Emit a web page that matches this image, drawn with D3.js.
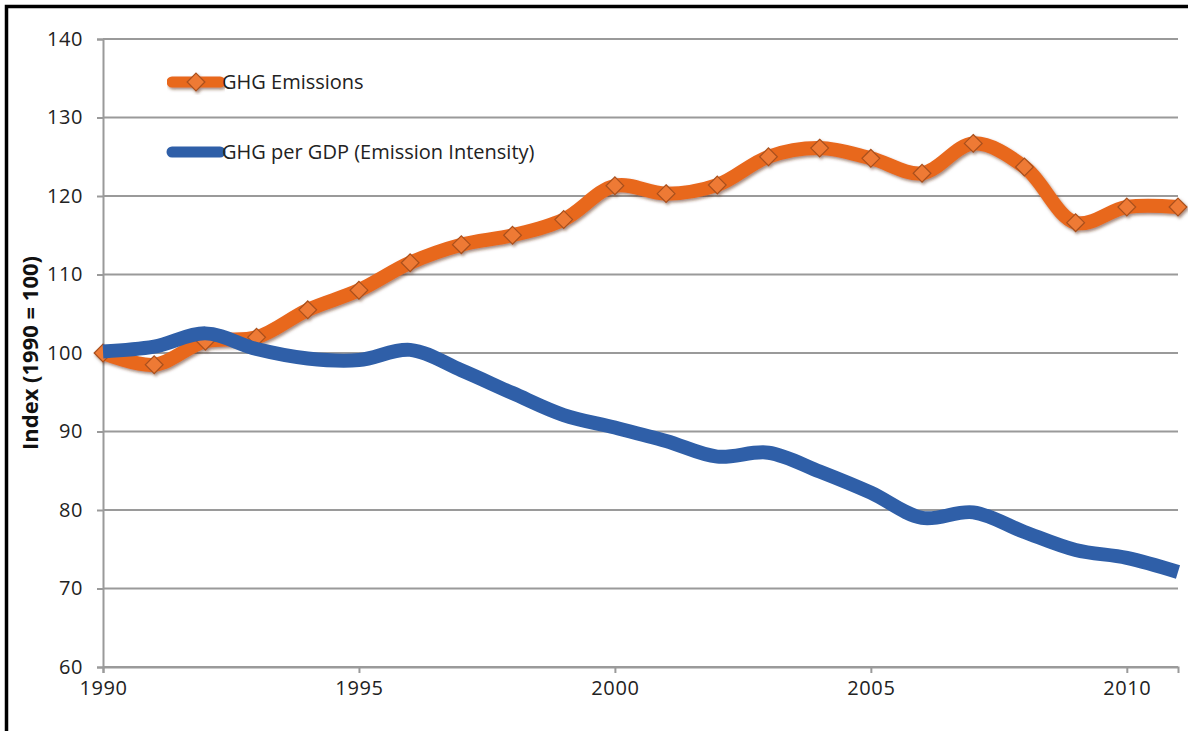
<!DOCTYPE html>
<html>
<head>
<meta charset="utf-8">
<script src="https://cdn.jsdelivr.net/npm/d3@7"></script>
<style>
  html, body { margin: 0; padding: 0; background: #fff; }
  svg { display: block; font-family: "Open Sans", "Liberation Sans", sans-serif; }
</style>
</head>
<body>
<svg id="chart" width="1188" height="731"></svg>
<script>
// Greenhouse gas index series, 1990 = 100
const years = d3.range(1990, 2012);
const emissions = [100, 98.5, 101.5, 102, 105.5, 108, 111.5, 113.8, 115, 117,
  121.3, 120.3, 121.4, 125, 126.1, 124.8, 122.9, 126.7, 123.7, 116.6, 118.6, 118.6];
const intensity = [100.2, 100.8, 102.5, 100.5, 99.3, 99.1, 100.4, 97.8, 94.9, 92.1,
  90.5, 88.8, 86.8, 87.3, 84.9, 82.2, 79.0, 79.7, 77.2, 74.9, 73.9, 72.1];
const yTicks = [60, 70, 80, 90, 100, 110, 120, 130, 140];
const xTicks = [1990, 1995, 2000, 2005, 2010];
const seriesNames = ["GHG Emissions", "GHG per GDP (Emission Intensity)"];
const yTitle = "Index (1990 = 100)";

const svg = d3.select("#chart");
const W = 1188, H = 731;
const m = { left: 103, right: 10, top: 39, bottom: 64 };
const FONT = "'Open Sans', 'Liberation Sans', sans-serif";

svg.append("rect").attr("width", W).attr("height", H).attr("fill", "#fff");

// frame: heavy black rule on the top and left edges
svg.append("path")
  .attr("d", `M6.5,${H} V6.5 H${W}`)
  .attr("fill", "none").attr("stroke", "#000").attr("stroke-width", 3.5);

const x = d3.scaleLinear().domain([1990, 2011]).range([m.left, 1178]);
const y = d3.scaleLinear().domain([60, 140]).range([667, m.top]);

const defs = svg.append("defs");
const sh = defs.append("filter").attr("id", "shadow")
  .attr("x", "-10%").attr("y", "-10%").attr("width", "120%").attr("height", "130%");
sh.append("feDropShadow").attr("dx", 1.5).attr("dy", 2).attr("stdDeviation", 1.6)
  .attr("flood-color", "#5a2a10").attr("flood-opacity", 0.55);

// horizontal gridlines
svg.append("g")
  .selectAll("line").data(yTicks).join("line")
  .attr("x1", x(1990)).attr("x2", x(2011))
  .attr("y1", d => y(d)).attr("y2", d => y(d))
  .attr("stroke", "#9a9a9a").attr("stroke-width", 2);

// y axis
const yAxis = svg.append("g").attr("transform", `translate(${m.left},0)`)
  .call(d3.axisLeft(y).tickValues(yTicks).tickSize(6).tickPadding(14));
yAxis.select(".domain").attr("stroke", "#9a9a9a").attr("stroke-width", 2);
yAxis.selectAll(".tick line").attr("stroke", "#9a9a9a").attr("stroke-width", 2);
yAxis.selectAll("text").attr("font-size", 20).attr("letter-spacing", 0.6)
  .attr("fill", "#222").attr("font-family", FONT);

// x axis
const xAxis = svg.append("g").attr("transform", `translate(0,${y(60)})`)
  .call(d3.axisBottom(x).tickValues(xTicks).tickFormat(d3.format("d")).tickSize(6).tickPadding(8));
xAxis.select(".domain").attr("stroke", "#9a9a9a").attr("stroke-width", 2);
xAxis.selectAll(".tick line").attr("stroke", "#9a9a9a").attr("stroke-width", 2);
xAxis.selectAll("text").attr("font-size", 20).attr("letter-spacing", 0.6)
  .attr("fill", "#222").attr("font-family", FONT);

// y axis title
svg.append("text")
  .attr("transform", `translate(38,${y(100)}) rotate(-90)`)
  .attr("text-anchor", "middle")
  .attr("font-size", 22).attr("font-weight", "bold").attr("fill", "#111")
  .text(yTitle);

const line = d3.line()
  .x((d, i) => x(years[i]))
  .y(d => y(d))
  .curve(d3.curveCatmullRom.alpha(0.5));

const orange = "#E8671F", orangeMark = "#EE7A35", orangeEdge = "#A8501E";
const blue = "#2F5FA8";

// emissions line with diamond markers
const gE = svg.append("g").attr("filter", "url(#shadow)");
gE.append("path").datum(emissions)
  .attr("d", line).attr("fill", "none")
  .attr("stroke", orange).attr("stroke-width", 14).attr("stroke-linejoin", "round");
const diamond = d3.symbol().type(d3.symbolDiamond2).size(200);
gE.selectAll("path.mk").data(emissions).join("path")
  .attr("class", "mk")
  .attr("d", diamond)
  .attr("transform", (d, i) => `translate(${x(years[i])},${y(d)})`)
  .attr("fill", orangeMark).attr("stroke", orangeEdge).attr("stroke-width", 1.2);

// emission intensity line
svg.append("path").datum(intensity)
  .attr("d", line).attr("fill", "none")
  .attr("stroke", blue).attr("stroke-width", 14).attr("stroke-linejoin", "round");

// legend
const legend = svg.append("g");
const lg1 = legend.append("g").attr("filter", "url(#shadow)");
lg1.append("line").attr("x1", 172).attr("x2", 220).attr("y1", 82).attr("y2", 82)
  .attr("stroke", orange).attr("stroke-width", 11).attr("stroke-linecap", "round");
lg1.append("path").attr("d", diamond).attr("transform", "translate(196,82)")
  .attr("fill", orangeMark).attr("stroke", orangeEdge).attr("stroke-width", 1.2);
legend.append("line").attr("x1", 172).attr("x2", 220).attr("y1", 152).attr("y2", 152)
  .attr("stroke", blue).attr("stroke-width", 11).attr("stroke-linecap", "round");
legend.selectAll("text").data(seriesNames).join("text")
  .attr("x", 222).attr("y", (d, i) => i === 0 ? 82 : 152)
  .attr("dy", "0.35em")
  .attr("font-size", 20).attr("fill", "#222")
  .text(d => d);
</script>
</body>
</html>
